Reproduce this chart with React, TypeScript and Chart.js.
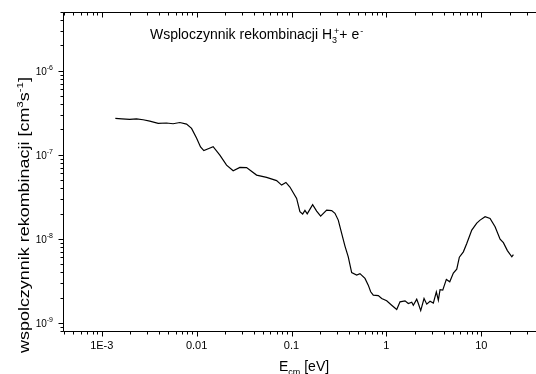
import React, { useEffect, useRef } from "react";
import Chart from "chart.js/auto";

// Collision energy E_cm [eV]
const E_CM = [
  1.39e-3, 1.63e-3, 1.97e-3, 2.32e-3, 2.73e-3, 3.21e-3, 3.93e-3, 4.81e-3, 5.65e-3, 6.65e-3,
  7.83e-3, 8.84e-3, 9.97e-3, 0.01099, 0.01191, 0.01345, 0.01493, 0.01757, 0.02067, 0.02427,
  0.02856, 0.0336, 0.04284, 0.05461, 0.06963, 0.07863, 0.08728, 0.09618, 0.1132, 0.1226,
  0.131, 0.1385, 0.1464, 0.167, 0.184, 0.2028, 0.2346, 0.2649, 0.287, 0.3109,
  0.3377, 0.3659, 0.3963, 0.4305, 0.486, 0.5266, 0.5947, 0.6442, 0.6829, 0.7273,
  0.8214, 0.8921, 1.007, 1.137, 1.285, 1.392, 1.571, 1.702, 1.849, 1.922,
  2.087, 2.17, 2.3, 2.493, 2.662, 2.884, 3.124, 3.36, 3.528, 3.677,
  3.926, 4.284, 4.654, 5.078, 5.514, 5.875, 6.474, 7.031, 7.94, 8.965,
  9.712, 10.97, 12.38, 13.98, 15.79, 17.1, 18.85, 20.98, 21.81,
];

// Recombination rate coefficient [cm^3 s^-1]
const RATE = [
  2.71e-7, 2.68e-7, 2.64e-7, 2.68e-7, 2.61e-7, 2.52e-7, 2.37e-7, 2.39e-7, 2.34e-7, 2.42e-7,
  2.32e-7, 2.06e-7, 1.58e-7, 1.24e-7, 1.12e-7, 1.19e-7, 1.25e-7, 9.92e-8, 7.54e-8, 6.45e-8,
  7.08e-8, 7.04e-8, 5.73e-8, 5.38e-8, 4.93e-8, 4.36e-8, 4.69e-8, 4.13e-8, 3.03e-8, 2.1e-8,
  1.97e-8, 2.18e-8, 1.98e-8, 2.55e-8, 2.14e-8, 1.86e-8, 2.2e-8, 2.17e-8, 2.01e-8, 1.67e-8,
  1.16e-8, 8.19e-9, 6.11e-9, 3.96e-9, 3.7e-9, 3.85e-9, 3.38e-9, 2.81e-9, 2.34e-9, 2.14e-9,
  2.11e-9, 1.95e-9, 1.83e-9, 1.62e-9, 1.44e-9, 1.78e-9, 1.83e-9, 1.7e-9, 1.76e-9, 1.62e-9,
  1.91e-9, 1.7e-9, 1.4e-9, 1.95e-9, 1.67e-9, 1.81e-9, 1.72e-9, 2.34e-9, 1.86e-9, 2.48e-9,
  2.45e-9, 3.29e-9, 3.08e-9, 3.91e-9, 4.36e-9, 6.05e-9, 7.0e-9, 8.81e-9, 1.27e-8, 1.54e-8,
  1.67e-8, 1.83e-8, 1.75e-8, 1.39e-8, 9.92e-9, 9.01e-9, 7.24e-9, 6.11e-9, 6.49e-9,
];

const X_TICK_VALUES = [1e-3, 0.01, 0.1, 1, 10];
const X_TICK_LABELS = ["1E-3", "0.01", "0.1", "1", "10"];
const Y_TICK_VALUES = [1e-9, 1e-8, 1e-7, 1e-6];
const Y_TICK_EXPONENTS = ["-9", "-8", "-7", "-6"];

const X_MIN = 4e-4;
const X_MAX = 40;
const Y_MIN = 8e-10;
const Y_MAX = 5e-6;

const FONT = '"Liberation Sans", Arial, sans-serif';
const CANVAS_W = 560;
const CANVAS_H = 374;

type Seg = { t: string; size: number; dy: number };

function segWidth(ctx: CanvasRenderingContext2D, segs: Seg[]) {
  let w = 0;
  for (const s of segs) {
    ctx.font = `${s.size}px ${FONT}`;
    w += ctx.measureText(s.t).width;
  }
  return w;
}

function drawSegs(ctx: CanvasRenderingContext2D, segs: Seg[], x: number, y: number) {
  let cx = x;
  for (const s of segs) {
    ctx.font = `${s.size}px ${FONT}`;
    ctx.fillText(s.t, cx, y + s.dy);
    cx += ctx.measureText(s.t).width;
  }
  return cx;
}

const axesPlugin = {
  id: "originAxes",
  afterDraw(chart: any) {
    const { ctx, chartArea: ca, scales } = chart;
    const xs = scales.x;
    const ys = scales.y;
    ctx.save();
    ctx.strokeStyle = "#000";
    ctx.fillStyle = "#000";
    ctx.lineWidth = 1;

    const L = Math.round(ca.left) - 0.5;
    const R = Math.round(ca.right) - 0.5;
    const T = Math.round(ca.top) + 0.5;
    const B = Math.round(ca.bottom) + 0.5;

    // frame: top, left, bottom (right side lies outside the visible picture)
    ctx.beginPath();
    ctx.moveTo(R, T);
    ctx.lineTo(L, T);
    ctx.lineTo(L, B);
    ctx.lineTo(R, B);
    ctx.stroke();

    // x ticks (bottom outward, top inward)
    ctx.beginPath();
    for (let e = -4; e <= 1; e++) {
      for (let m = 1; m <= 9; m++) {
        const v = m * Math.pow(10, e);
        if (v < X_MIN || v > X_MAX) continue;
        const px = Math.round(xs.getPixelForValue(v)) + 0.5;
        const len = m === 1 ? 5 : 3;
        ctx.moveTo(px, B);
        ctx.lineTo(px, B + len);
        ctx.moveTo(px, T);
        ctx.lineTo(px, T + len);
      }
    }
    // y ticks (left outward)
    for (let e = -10; e <= -6; e++) {
      for (let m = 1; m <= 9; m++) {
        const v = m * Math.pow(10, e);
        if (v < Y_MIN || v > Y_MAX) continue;
        const py = Math.round(ys.getPixelForValue(v)) + 0.5;
        const len = m === 1 ? 5 : 3;
        ctx.moveTo(L, py);
        ctx.lineTo(L - len, py);
      }
    }
    ctx.stroke();

    // x tick labels
    ctx.textBaseline = "alphabetic";
    ctx.textAlign = "center";
    ctx.font = `11px ${FONT}`;
    X_TICK_VALUES.forEach((v, i) => {
      ctx.fillText(X_TICK_LABELS[i], xs.getPixelForValue(v), 349);
    });

    // y tick labels 10^n
    ctx.textAlign = "left";
    Y_TICK_VALUES.forEach((v, i) => {
      const py = ys.getPixelForValue(v);
      const segs: Seg[] = [
        { t: "10", size: 10, dy: 0 },
        { t: Y_TICK_EXPONENTS[i], size: 7, dy: -4.5 },
      ];
      const w = segWidth(ctx, segs);
      drawSegs(ctx, segs, 53 - w, py + 4);
    });

    // x title
    const xt: Seg[] = [
      { t: "E", size: 14, dy: 0 },
      { t: "cm", size: 9, dy: 3.5 },
      { t: " [eV]", size: 14, dy: 0 },
    ];
    drawSegs(ctx, xt, 279, 371);

    // y title (rotated)
    const yt: Seg[] = [
      { t: "wspolczynnik rekombinacji [cm", size: 14, dy: 0 },
      { t: "3", size: 9, dy: -6 },
      { t: "s", size: 14, dy: 0 },
      { t: "-1", size: 9, dy: -6 },
      { t: "]", size: 14, dy: 0 },
    ];
    const yw = segWidth(ctx, yt);
    const targetLen = 276;
    ctx.save();
    ctx.translate(29, 215);
    ctx.rotate(-Math.PI / 2);
    ctx.scale(targetLen / yw, 1);
    drawSegs(ctx, yt, -yw / 2, 0);
    ctx.restore();

    // inner title: Wsploczynnik rekombinacji H3+ + e-
    let cx = drawSegs(ctx, [{ t: "Wsploczynnik rekombinacji H", size: 14, dy: 0 }], 150, 38.5);
    ctx.font = `9px ${FONT}`;
    ctx.fillText("3", cx, 43);
    const w3 = ctx.measureText("3").width;
    ctx.fillText("+", cx + 2, 33.5);
    const wp = ctx.measureText("+").width;
    cx += Math.max(w3, wp + 2);
    cx = drawSegs(ctx, [{ t: "+ e", size: 14, dy: 0 }], cx, 38.5);
    ctx.font = `9px ${FONT}`;
    ctx.fillText("-", cx + 1, 33.5);

    ctx.restore();
  },
};

export default function App() {
  const ref = useRef<HTMLCanvasElement>(null);
  useEffect(() => {
    if (!ref.current) return;
    const chart = new Chart(ref.current, {
      type: "line",
      data: {
        datasets: [
          {
            data: E_CM.map((x, i) => ({ x, y: RATE[i] })),
            borderColor: "#000",
            borderWidth: 1.2,
            pointRadius: 0,
            tension: 0,
            fill: false,
          },
        ],
      },
      options: {
        animation: false,
        responsive: false,
        events: [],
        layout: { padding: { left: 64, top: 12, right: CANVAS_W - 538.4, bottom: CANVAS_H - 331 } },
        plugins: { legend: { display: false }, tooltip: { enabled: false } },
        scales: {
          x: { type: "logarithmic", min: X_MIN, max: X_MAX, display: false },
          y: { type: "logarithmic", min: Y_MIN, max: Y_MAX, display: false },
        },
      },
      plugins: [axesPlugin],
    } as any);
    return () => chart.destroy();
  }, []);
  return (
    <div
      style={{
        position: "fixed",
        left: 0,
        top: 0,
        width: 536,
        height: 374,
        overflow: "hidden",
        background: "#fff",
      }}
    >
      <canvas ref={ref} width={CANVAS_W} height={CANVAS_H} style={{ display: "block" }} />
    </div>
  );
}
